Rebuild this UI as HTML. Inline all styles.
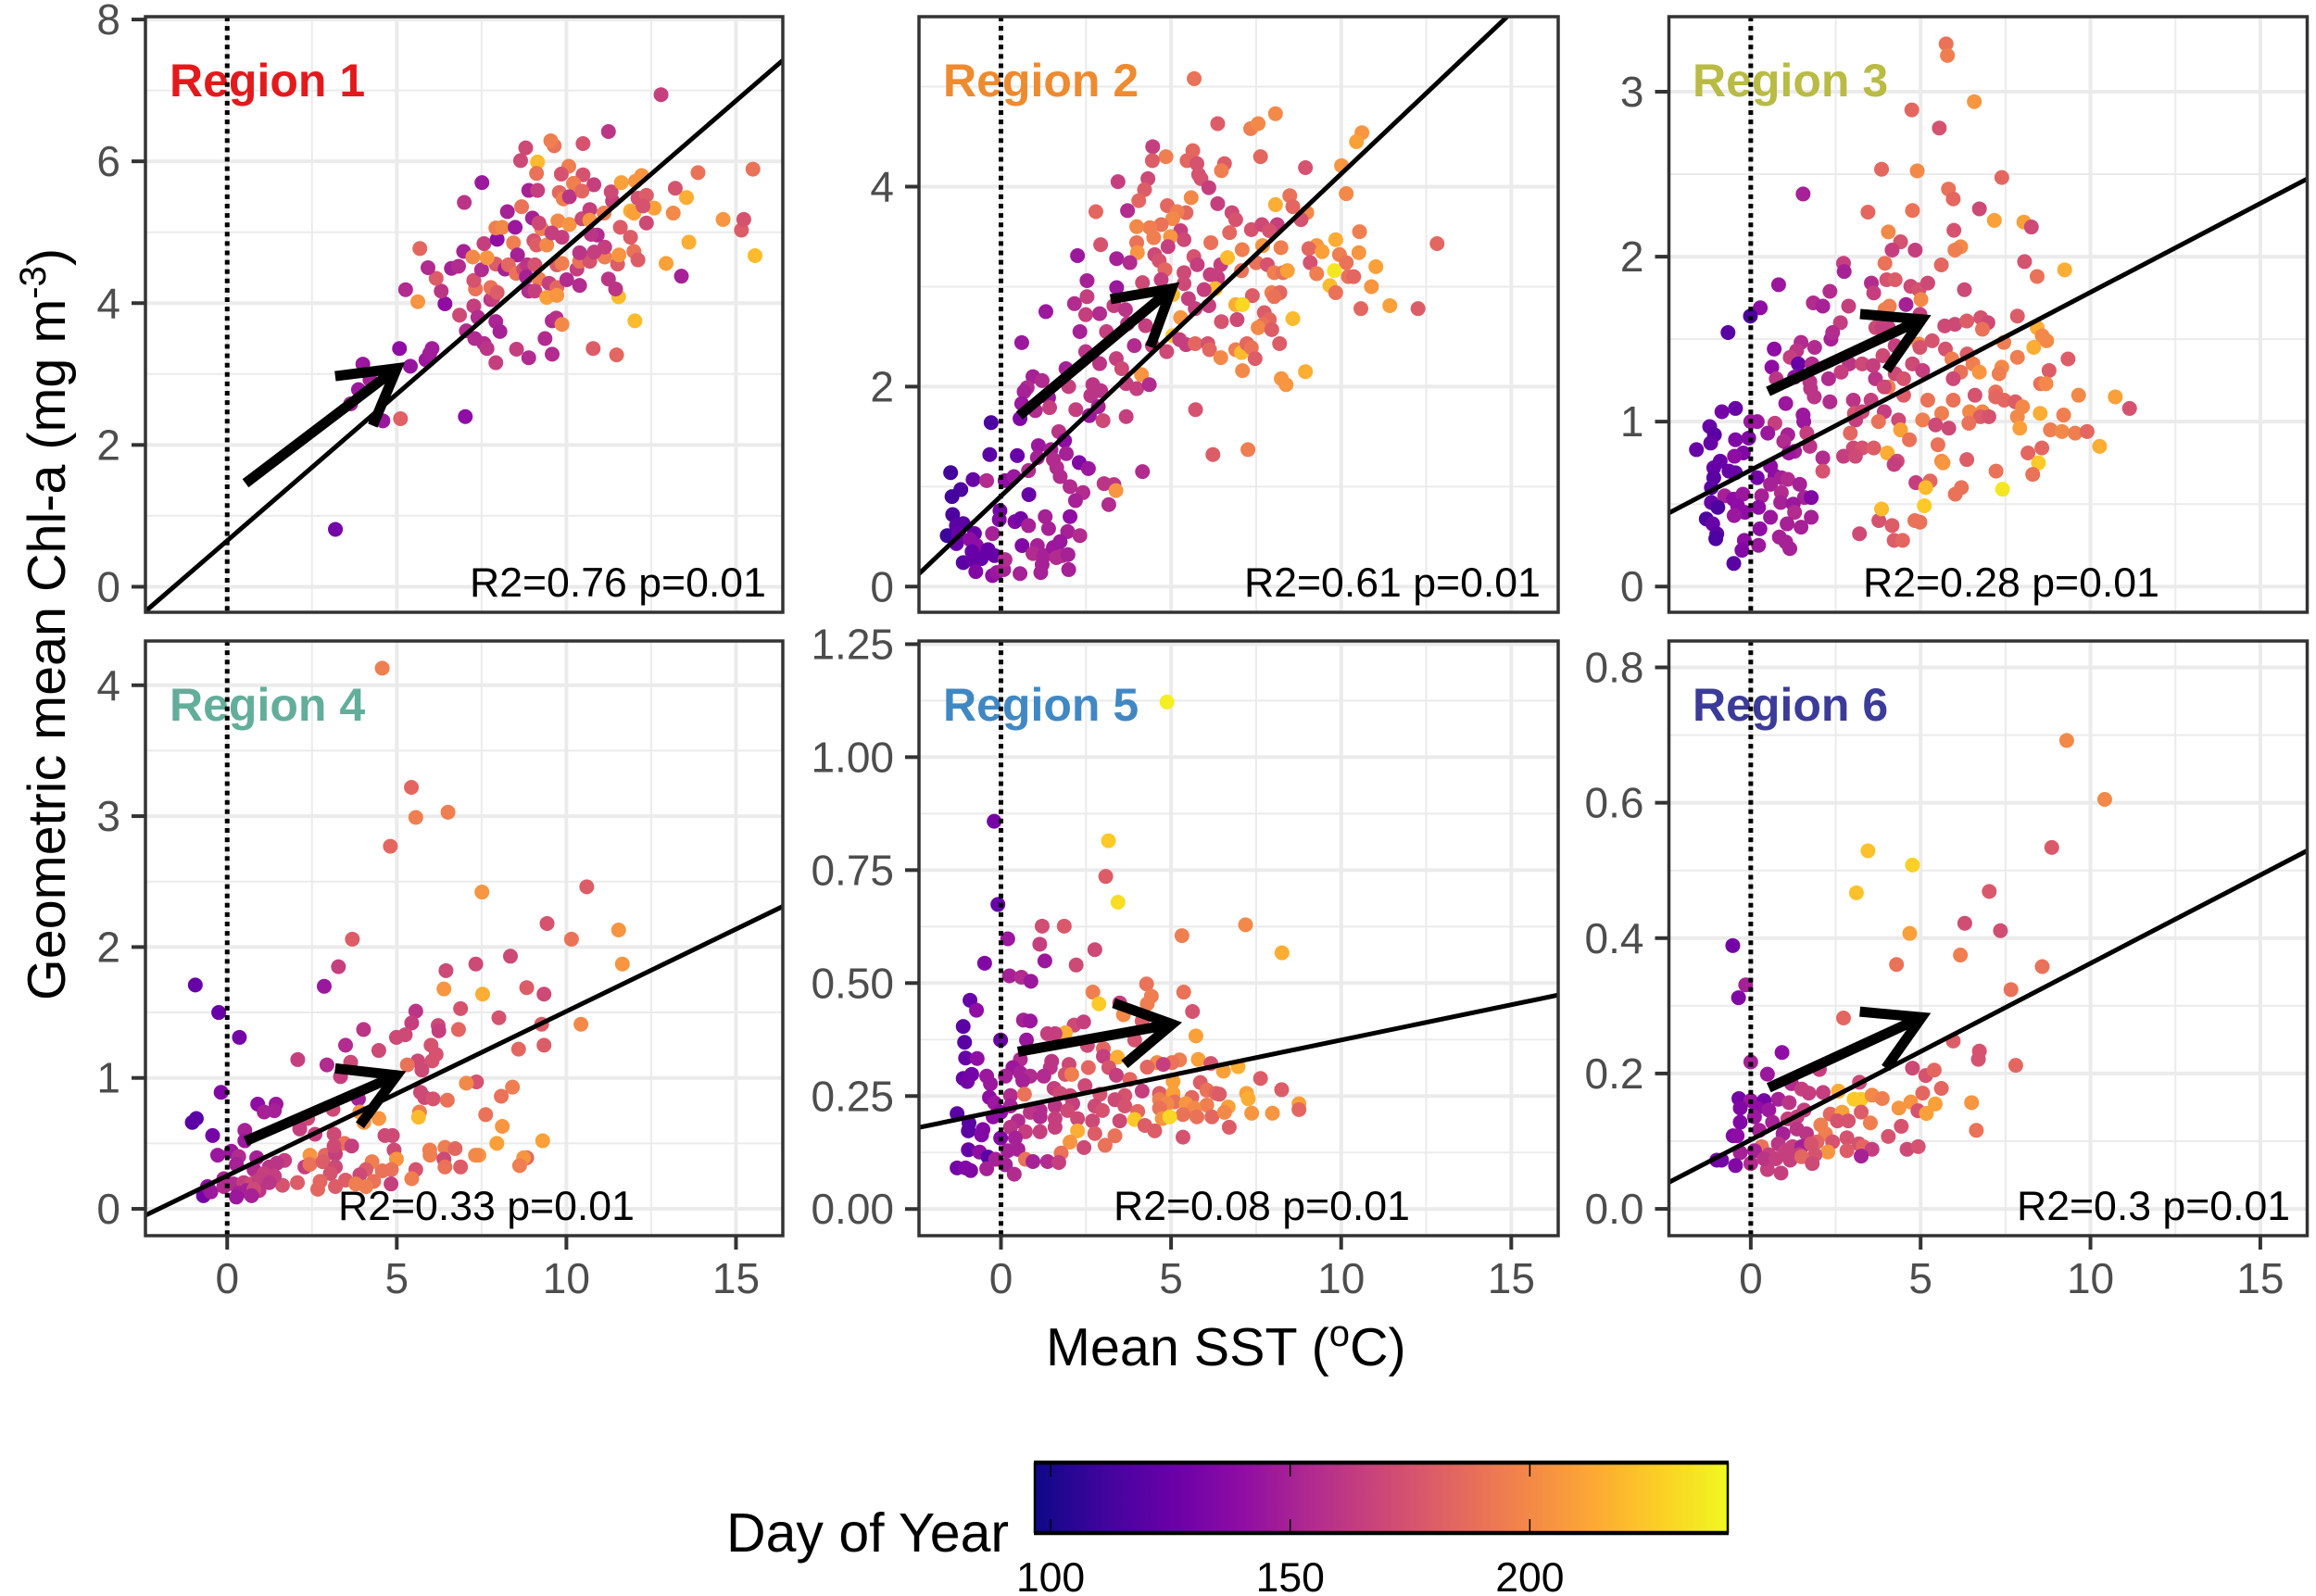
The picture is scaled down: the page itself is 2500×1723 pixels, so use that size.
<!DOCTYPE html>
<html lang="en">
<head>
<meta charset="utf-8">
<title>Chl-a vs SST by region</title>
<style>
html,body{margin:0;padding:0;background:#fff;}
svg{display:block;font-family:"Liberation Sans",Arial,sans-serif;}
</style>
</head>
<body>
<svg id="chart" xmlns="http://www.w3.org/2000/svg" width="2500" height="1723" viewBox="0 0 2500 1723">
<rect x="0" y="0" width="2500" height="1723" fill="#fff"/>
<defs><linearGradient id="plasmaGrad" x1="0" x2="1" y1="0" y2="0"></linearGradient></defs>
<g id="panels"></g>
<text transform="translate(70,1080) rotate(-90)" font-size="57.5" fill="#000">Geometric mean Chl-a (mg m<tspan dy="-21" font-size="40">-3</tspan><tspan dy="21">)</tspan></text>
<text x="1129" y="1474" font-size="57.5" fill="#000">Mean SST (<tspan dy="-21" font-size="40">o</tspan><tspan dy="21">C)</tspan></text>
<text x="784" y="1675" font-size="59" fill="#000">Day of Year</text>
<g id="legend"></g>
</svg>
<script>
// Each point: [mean SST, geometric mean Chl-a, day of year]
const region1Points = [[3.19,.81,130],[7.02,2.4,140],[4.59,2.34,145],[5.11,2.37,182],[3.64,2.58,150],[3.87,2.78,145],[4.21,2.92,150],[4,3.14,145],[5.08,3.36,140],[5.4,3.11,143],[5.86,3.2,145],[6.04,3.36,148],[5.97,3.29,148],[5.26,4.19,155],[5.62,4.02,205],[6.42,3.99,140],[6.31,4.17,160],[6.16,4.35,180],[5.92,4.5,155],[5.68,4.77,185],[6.61,4.49,150],[6.82,4.52,155],[6.97,4.73,150],[6.99,5.42,160],[7.51,5.7,145],[6.85,3.83,170],[7.27,3.96,165],[7.39,3.8,155],[7.05,3.61,155],[7.3,3.5,155],[7.57,3.43,155],[7.66,3.36,160],[7.92,3.16,165],[8.53,3.35,165],[8.89,3.23,155],[9.58,3.28,155],[9.37,3.5,155],[9.58,3.75,155],[9.7,3.79,158],[9.87,3.7,200],[10.79,3.36,180],[11.48,3.27,185],[12.02,3.75,220],[11.54,4.09,220],[7.92,3.74,152],[8.04,3.6,150],[7.77,4.05,160],[7.84,4.08,165],[7.32,4.2,190],[7.27,4.32,175],[7.77,4.22,190],[7.96,4.15,180],[7.5,4.47,155],[7.92,4.55,180],[8.19,4.48,150],[7.24,4.65,200],[7.66,4.64,205],[7.57,4.84,165],[7.96,4.9,140],[7.92,5.06,195],[8.11,5.07,200],[8.49,5.07,145],[8.26,5.29,150],[8.68,5.36,190],[9,5.2,150],[8.44,4.85,195],[8.56,4.68,150],[8.29,4.54,185],[8.52,4.42,190],[8.74,4.48,170],[8.85,4.54,160],[9.07,4.54,175],[8.82,4.37,150],[9.19,4.34,195],[8.89,4.17,155],[9.07,4.17,165],[9.49,4.28,165],[9.72,4.22,185],[9.42,4.08,210],[9.72,4.11,205],[10.01,4.33,155],[10.39,4.25,155],[11.24,4.34,160],[11.45,4.2,160],[13.39,4.38,150],[9.72,4.54,180],[9.87,4.56,195],[10.31,4.48,165],[10.39,4.59,190],[10.69,4.59,175],[11.13,4.65,195],[11.51,4.55,180],[11.55,4.68,205],[11.99,4.73,190],[12.11,4.61,180],[12.94,4.56,210],[13.61,4.86,215],[15.56,4.67,220],[15.16,5.03,180],[15.23,5.18,175],[14.62,5.18,205],[13.15,5.27,200],[12.59,5.34,210],[11.89,5.3,215],[11.99,5.27,210],[12.36,5.13,170],[11.59,5.07,180],[11.89,4.93,180],[11.13,4.79,165],[10.82,4.72,165],[10.39,4.71,160],[9.04,4.88,175],[9.12,4.82,180],[9.42,4.82,200],[9.87,4.93,165],[9.75,5.16,200],[10.09,5.11,205],[9.27,5.05,195],[9.19,5.13,170],[9.57,4.99,165],[10.46,5.19,170],[10.69,5.32,165],[10.69,5.17,205],[10.91,4.96,155],[10.73,4.97,160],[11.11,5.27,195],[11.36,5.44,165],[11.32,5.57,170],[10.81,5.67,165],[11.62,5.7,210],[12.04,5.72,205],[12.22,5.8,205],[12.11,5.48,175],[12.36,5.52,180],[12.26,5.37,175],[13.21,5.62,175],[13.54,5.49,215],[13.88,5.84,190],[15.5,5.89,190],[12.79,6.94,165],[11.24,6.42,160],[10.49,6.25,175],[9.64,6.22,190],[9.54,6.29,195],[8.8,6.19,170],[8.65,6.01,170],[9.15,5.99,220],[9.12,5.83,190],[10.07,5.93,195],[9.85,5.82,175],[10.49,5.81,175],[10.21,5.69,195],[8.89,5.59,150],[9.15,5.59,165],[9.79,5.56,185],[9.91,5.47,195],[10.09,5.5,160],[10.46,5.58,185]];
const region2Points = [[5.68,5.08,190],[6.37,4.63,180],[7.34,4.58,195],[7.56,4.63,200],[8.07,4.73,200],[10.61,4.54,205],[10.45,4.45,210],[10.01,4.21,205],[8.95,4.19,175],[7.63,4.3,185],[6.57,4.23,180],[6.48,4.16,195],[4.46,4.4,165],[5.64,4.36,185],[4.85,4.3,195],[4.45,4.26,180],[5.47,4.26,185],[5.76,4.23,175],[5.81,4.12,175],[5.88,4.08,175],[6.11,3.99,165],[4.32,4.08,170],[4.22,3.97,180],[4.05,3.86,185],[3.44,4.05,165],[2.79,3.75,185],[3.72,3.76,155],[5.59,3.89,200],[4.89,3.81,185],[6.37,3.83,165],[6.79,3.74,170],[6.9,3.67,175],[5.44,3.74,185],[5.18,3.75,195],[5.05,3.68,200],[4.71,3.62,190],[4.38,3.59,195],[3.99,3.6,200],[5.28,3.56,165],[5.38,3.47,170],[4.98,3.5,205],[4.49,3.49,195],[3.99,3.44,190],[2.93,3.42,175],[4.91,3.4,165],[4.01,3.34,205],[2.25,3.31,145],[3.4,3.28,150],[3.79,3.24,155],[4.52,3.32,170],[4.65,3.26,175],[5.67,3.3,175],[5.77,3.22,165],[4.82,3.17,185],[5.38,3.14,170],[2.53,3.06,150],[4.71,3.07,165],[4.16,3.04,170],[5.38,3.03,170],[3.4,2.99,145],[6.15,3.12,165],[6.37,3.09,165],[6.46,3.22,165],[6.72,3.54,185],[6.17,3.44,190],[7.36,3.57,175],[7.67,3.62,170],[8.12,3.62,165],[7.89,3.56,175],[8.07,3.82,215],[8.49,3.91,190],[8.58,3.8,185],[8.99,3.74,200],[8.82,3.67,175],[10.15,3.93,200],[10.54,3.55,195],[9.84,3.47,215],[9.28,3.41,205],[9.05,3.38,185],[9.44,3.35,210],[9.95,3.32,195],[10.52,3.34,205],[9.09,3.24,175],[10.15,3.24,190],[11.02,3.2,210],[9.8,3.16,235],[9.28,3.13,195],[10.21,3.1,190],[10.37,3.1,185],[9.67,3.01,220],[9.84,2.94,190],[10.89,3,205],[12.82,3.43,185],[12.26,2.78,180],[11.43,2.81,210],[10.58,2.78,185],[7.09,3.37,195],[7.69,3.41,205],[8.23,3.39,195],[6.66,3.29,220],[7.5,3.24,190],[7.83,3.22,175],[8.03,3.14,195],[8.29,3.14,190],[8.42,3.16,210],[7.07,3.16,190],[6.3,2.98,220],[5.97,2.97,165],[5.05,2.92,220],[5.51,2.88,165],[6.11,2.81,165],[5.71,2.78,165],[7.39,2.91,180],[7.96,2.94,195],[8.2,2.94,185],[8.03,2.9,190],[6.9,2.82,215],[7.1,2.82,230],[7.74,2.74,180],[8.58,2.68,220],[6.94,2.67,170],[6.48,2.65,175],[7.89,2.67,185],[7.7,2.62,190],[7.56,2.59,200],[7.96,2.57,180],[5.28,2.69,205],[5.05,2.51,225],[5.25,2.47,165],[5.44,2.42,165],[5.71,2.43,185],[6.08,2.43,175],[6.13,2.37,185],[6.46,2.29,200],[6.9,2.37,195],[7.07,2.34,220],[7.23,2.43,185],[7.36,2.39,190],[7.47,2.28,180],[8.19,2.43,180],[7.1,2.16,200],[8.24,2.08,205],[8.38,2.02,205],[8.95,2.15,215],[4.87,2.35,170],[4.45,2.41,165],[4.13,2.12,205],[5.72,1.77,175],[6.23,1.32,180],[7.26,1.37,195],[3.32,2.81,165],[3.66,2.77,160],[2.49,2.72,165],[2.9,2.73,155],[2.16,2.83,155],[2.53,2.9,165],[1.32,2.75,145],[.61,2.44,145],[2.32,2.55,150],[3.1,2.55,165],[3.72,2.63,160],[4.25,2.61,165],[3.92,2.41,155],[2.49,2.35,160],[3.39,2.28,165],[3.55,2.18,170],[2.9,2.23,160],[1.91,2.18,150],[.94,2.1,150],[1.21,2.06,155],[.77,1.99,155],[.68,1.95,150],[1.99,2,165],[2.7,2.02,160],[2.93,1.96,160],[2.64,1.91,160],[3.68,2.03,165],[3.99,1.98,165],[4.36,2.02,155],[.61,1.83,145],[1.4,1.89,145],[1.01,1.76,155],[1.43,1.79,165],[.56,1.68,135],[2.2,1.77,165],[2.6,1.71,145],[2.86,1.8,150],[3,1.66,170],[3.68,1.7,165],[-.29,1.64,115],[1.7,1.55,160],[1.87,1.46,140],[1.1,1.41,145],[1.47,1.37,150],[-.33,1.32,120],[.48,1.31,125],[1.92,1.33,150],[1.07,1.29,150],[1.54,1.27,155],[2.3,1.24,135],[2.57,1.18,145],[1.64,1.19,155],[1.74,1.1,155],[4.16,1.15,155],[-1.48,1.14,112],[-.82,1.07,125],[-.42,1.06,155],[.12,1.06,140],[.38,1.1,145],[.81,1.16,155],[3.03,1.03,160],[3.32,1.02,160],[3.38,.96,205],[2.03,1,155],[2.41,.94,155],[-1.18,.97,115],[-1.44,.9,112],[.82,.92,125],[2.19,.86,150],[3.17,.82,155],[-.03,.76,130],[-1.42,.72,115],[-.05,.67,135],[.41,.65,135],[.58,.68,130],[1.3,.7,150],[2.03,.7,140],[.81,.61,150],[1.4,.58,150],[1.96,.55,150],[2.32,.51,155],[-1.31,.61,120],[-1.11,.63,120],[-1.58,.51,110],[-1.25,.53,125],[-.78,.53,125],[-.25,.53,150],[-1.31,.43,125],[-.91,.47,140],[-.72,.41,140],[-.38,.37,125],[-.85,.35,125],[-.19,.31,125],[-1.11,.24,120],[-.85,.27,125],[-.58,.28,125],[-.74,.15,135],[-.25,.11,140],[-.12,.14,145],[.08,.17,150],[.12,.27,155],[.56,.13,150],[1.17,.14,150],[1.99,.17,150],[.62,.41,135],[1.07,.41,150],[.94,.33,155],[1.27,.31,150],[1.21,.22,150],[1.54,.39,145],[1.63,.29,155],[1.8,.31,155],[1.97,.32,150],[1.74,.45,145]];
const region3Points = [[5.75,3.29,190],[5.79,3.22,195],[6.58,2.94,205],[4.74,2.89,185],[5.55,2.78,175],[3.85,2.53,185],[4.9,2.52,200],[7.39,2.48,185],[1.54,2.38,150],[5.82,2.41,190],[5.96,2.35,185],[6.73,2.29,170],[3.45,2.27,185],[4.76,2.28,190],[7.17,2.22,210],[8.04,2.21,210],[8.26,2.18,170],[4.05,2.15,200],[5.98,2.16,175],[4.41,2.09,175],[4.16,2.04,165],[4.84,2.04,165],[6.18,2.06,200],[6.01,2.04,195],[2.73,1.96,165],[2.75,1.91,150],[3.95,1.96,190],[5.61,1.95,185],[8.06,1.97,175],[9.24,1.92,215],[8.43,1.88,190],[.82,1.83,145],[2.33,1.79,155],[3.55,1.84,155],[3.62,1.78,165],[4,1.86,175],[4.25,1.86,180],[4.71,1.82,170],[4.95,1.8,175],[5.21,1.84,170],[6.29,1.8,170],[1.84,1.72,155],[2.12,1.7,150],[2.88,1.7,165],[.28,1.69,140],[-.01,1.64,115],[-.67,1.54,120],[4.57,1.71,150],[5.01,1.74,200],[4.08,1.7,195],[3.95,1.68,195],[4.98,1.65,165],[2.64,1.6,165],[3.68,1.57,170],[3.86,1.57,165],[4.05,1.57,165],[5.71,1.58,170],[6.01,1.59,170],[6.36,1.61,180],[6.77,1.63,175],[6.98,1.6,170],[6.82,1.56,190],[7.85,1.64,180],[8.43,1.57,215],[8.58,1.52,200],[8.71,1.49,200],[2.36,1.5,150],[2.41,1.54,155],[1.48,1.48,155],[1.88,1.45,155],[1.35,1.43,160],[.69,1.44,140],[1.16,1.39,165],[4.25,1.46,165],[4.95,1.47,200],[4.98,1.45,175],[5.34,1.49,175],[5.73,1.44,175],[7.45,1.48,195],[8.33,1.45,215],[6.37,1.41,180],[7.85,1.39,195],[9.34,1.38,180],[5.92,1.38,195],[3.89,1.4,170],[1.4,1.35,125],[.62,1.33,140],[1.8,1.35,155],[2.9,1.35,160],[3.28,1.35,170],[2.66,1.3,165],[3.6,1.34,165],[4.76,1.35,170],[5.06,1.31,165],[6.54,1.35,195],[4.25,1.29,170],[6.18,1.3,190],[6.73,1.3,205],[7.39,1.33,200],[7.31,1.29,195],[8.78,1.31,180],[5.96,1.26,170],[.75,1.26,160],[1.29,1.27,140],[2.29,1.26,155],[3.67,1.26,160],[4.5,1.26,175],[4.05,1.21,195],[8.53,1.23,190],[8.69,1.23,200],[1.74,1.24,160],[1.76,1.2,160],[1.87,1.15,160],[4.5,1.16,180],[3.93,1.21,170],[1.03,1.11,145],[2.33,1.12,155],[3.02,1.13,160],[3.54,1.13,165],[5.21,1.13,190],[5.96,1.13,190],[6.6,1.16,175],[7.21,1.18,190],[7.21,1.15,185],[7.46,1.13,185],[7.79,1.12,180],[9.65,1.16,200],[10.73,1.15,210],[11.15,1.08,175],[8,1.09,200],[-.45,1.08,125],[-.85,1.06,130],[1.54,1.04,145],[1.56,1,145],[3.05,1.05,175],[3.28,1.06,170],[3.09,1.01,165],[3.93,1.06,165],[3.76,1,190],[0,1,145],[.19,1,145],[.71,.99,165],[4.35,1.01,170],[5.06,1.01,195],[5.62,1.05,195],[6.44,1.06,200],[6.82,1.06,200],[6.76,1.03,180],[7.01,1.03,175],[7.85,1.03,200],[8.52,1.05,215],[9.21,1.04,195],[5.44,.98,170],[5.83,.96,170],[6.42,.99,190],[7.92,.96,210],[-1.21,.97,125],[-1.07,.92,120],[-1.18,.87,125],[-1.6,.83,125],[.5,.93,145],[-.45,.89,135],[-.06,.9,135],[1.09,.92,150],[.97,.88,155],[1.65,.93,165],[1.74,.85,160],[1.29,.82,150],[1.12,.81,145],[2.93,.93,185],[4.41,.95,210],[4.67,.89,190],[5.51,.86,190],[8.82,.95,195],[9.16,.94,200],[9.55,.93,195],[9.9,.94,185],[10.27,.85,215],[8.57,.84,185],[8.16,.81,185],[3.02,.84,170],[3.28,.84,175],[3.62,.84,180],[2.73,.79,165],[3.08,.79,170],[4.02,.81,215],[2.12,.78,155],[6.36,.77,180],[5.62,.76,200],[5.66,.75,205],[8.47,.75,225],[4.31,.76,170],[4.22,.74,165],[2.12,.7,175],[-.22,.81,135],[-.48,.79,140],[-.9,.76,125],[-1.09,.72,125],[-.64,.7,125],[-.45,.69,125],[.58,.73,140],[.71,.67,140],[.19,.66,130],[-1.09,.66,120],[-1.16,.6,120],[7.22,.7,190],[8.3,.68,190],[5.28,.64,185],[4.86,.63,165],[5.15,.6,220],[6.2,.6,190],[6.02,.56,190],[7.41,.59,235],[.58,.62,150],[.9,.66,150],[1.09,.65,155],[1.44,.62,150],[.9,.57,155],[.32,.55,150],[1.58,.54,150],[1.78,.54,135],[-.77,.55,150],[-.51,.53,140],[-.23,.56,145],[-1.16,.51,125],[-.97,.48,115],[-.39,.49,140],[-.17,.45,140],[-.49,.43,145],[.88,.51,150],[.23,.48,140],[1.25,.5,145],[1.29,.45,155],[.58,.42,145],[1.78,.42,150],[-1.31,.41,115],[-1.12,.38,125],[1.07,.38,150],[1.48,.36,150],[.27,.35,140],[-1,.32,120],[-1.03,.29,115],[-.19,.28,140],[.23,.25,145],[.84,.3,150],[1.03,.27,150],[1.15,.23,150],[-.26,.22,135],[-.5,.14,120],[3.2,.32,170],[3.77,.4,175],[4.16,.37,180],[3.85,.47,220],[5.11,.49,225],[4.83,.4,190],[4.98,.39,190],[4.22,.28,180],[4.47,.28,185]];
const region4Points = [[4.57,4.13,195],[5.43,3.22,185],[5.56,2.99,195],[6.51,3.03,195],[4.81,2.77,185],[7.51,2.42,205],[10.6,2.46,180],[9.43,2.18,175],[11.54,2.13,205],[10.15,2.06,190],[3.69,2.06,180],[3.28,1.85,165],[2.86,1.7,145],[-.94,1.71,125],[-.25,1.5,125],[.36,1.31,130],[11.65,1.87,205],[8.35,1.93,170],[7.33,1.87,170],[6.45,1.82,170],[6.39,1.68,205],[8.83,1.69,180],[7.53,1.64,215],[9.34,1.64,170],[6.88,1.53,175],[5.56,1.51,160],[8.01,1.46,175],[5.44,1.42,165],[9.27,1.41,180],[10.43,1.41,200],[6.22,1.4,170],[6.24,1.36,165],[6.82,1.37,185],[4.02,1.37,160],[4.99,1.31,170],[5.25,1.33,170],[3.49,1.25,155],[9.34,1.25,180],[6.01,1.25,175],[4.47,1.21,170],[8.59,1.22,185],[6.16,1.18,175],[2.08,1.14,165],[3.64,1.12,170],[5.62,1.13,170],[6.04,1.13,175],[5.31,1.1,190],[5.74,1.06,170],[2.94,1.1,155],[3.34,1.01,165],[7.35,.97,175],[7.05,.96,200],[8.41,.93,195],[8.08,.86,190],[5.7,.89,170],[5.82,.85,170],[6.07,.84,175],[6.49,.83,190],[-.18,.89,135],[.9,.8,140],[1.44,.8,145],[1.09,.74,150],[1.39,.75,150],[3.87,.84,150],[3.12,.76,170],[5.67,.74,195],[7.62,.72,190],[3.91,.74,205],[4.47,.69,205],[4.03,.66,205],[5.64,.7,220],[8.11,.63,205],[-1.03,.66,120],[-.91,.69,120],[-.43,.56,130],[.52,.6,150],[.52,.52,145],[2.37,.69,170],[2.14,.61,165],[2.59,.57,165],[3.15,.57,170],[4.65,.56,170],[4.87,.56,170],[3.46,.5,190],[3.67,.48,165],[9.3,.52,210],[7.95,.5,210],[6.42,.47,195],[6.72,.46,185],[5.97,.45,195],[5.98,.41,195],[4.92,.45,170],[7.42,.41,205],[7.32,.41,200],[8.83,.39,185],[8.74,.39,205],[8.62,.33,195],[6.88,.32,180],[6.39,.38,170],[6.42,.32,190],[5.56,.3,175],[5.44,.23,195],[4.99,.38,205],[4.84,.3,190],[4.57,.29,190],[4.27,.36,195],[4.09,.3,180],[3.91,.26,170],[4.32,.21,190],[4.83,.19,165],[2.44,.41,205],[2.89,.41,185],[3.19,.42,165],[3.15,.48,170],[2.29,.32,165],[2.44,.34,190],[1.69,.37,165],[2.82,.36,180],[3.19,.32,170],[3.04,.27,175],[2.74,.21,185],[2.67,.15,185],[3.19,.17,180],[3.49,.22,180],[3.79,.19,195],[4.09,.17,195],[2.07,.2,180],[1.63,.18,175],[-.28,.41,145],[.12,.44,145],[.34,.4,155],[.87,.39,150],[.27,.34,150],[.79,.3,155],[1.24,.32,160],[1.47,.35,160],[1.09,.27,165],[1.39,.25,165],[-.1,.23,150],[.19,.19,155],[.49,.2,165],[.72,.19,170],[.94,.22,165],[1.24,.2,160],[.34,.12,150],[.57,.14,150],[.27,.09,145],[.94,.14,160],[-.7,.1,130],[-.58,.17,140],[-.48,.13,145],[.79,.15,170],[.72,.1,150],[-.1,.17,155]];
const region5Points = [[4.88,1.122,238],[-.2,.858,130],[3.16,.815,225],[3.08,.736,180],[-.09,.674,125],[3.44,.679,232],[1.21,.626,172],[1.86,.626,178],[7.19,.629,200],[5.32,.605,195],[.2,.598,145],[1.14,.586,165],[2.76,.574,170],[1.29,.549,145],[-.48,.544,135],[2.21,.54,170],[8.26,.567,215],[.25,.516,150],[.6,.513,155],[.88,.504,145],[4.28,.498,190],[2.7,.48,195],[5.37,.48,190],[2.88,.454,225],[4.42,.471,195],[4.3,.454,195],[-.91,.462,125],[-.72,.44,140],[3.49,.456,165],[5.63,.437,175],[3.6,.43,200],[4.15,.416,180],[.66,.418,150],[.86,.416,145],[-1.11,.404,120],[2.15,.407,170],[2.43,.414,165],[5.73,.383,210],[1.89,.39,215],[1.37,.388,165],[1.59,.388,165],[.75,.374,145],[-.01,.374,125],[-1.07,.369,120],[3.93,.374,175],[2.54,.362,170],[-1.04,.334,125],[-.7,.333,140],[3.01,.355,185],[3.01,.338,165],[3.42,.336,215],[.57,.331,155],[5.8,.331,210],[5.25,.33,195],[5.03,.324,190],[4.59,.324,200],[4.3,.314,185],[4.77,.32,165],[1.49,.327,160],[1.45,.313,160],[2,.32,170],[2.57,.313,185],[3.17,.313,175],[6.17,.322,175],[6.97,.315,215],[6.54,.305,210],[.35,.313,145],[.13,.294,150],[.57,.301,150],[.86,.294,155],[1.26,.294,155],[1.89,.298,175],[2.08,.298,195],[3.39,.296,165],[-1.11,.289,125],[-.86,.298,130],[-.99,.282,130],[-.42,.294,145],[-.31,.277,145],[.64,.284,150],[3.79,.287,185],[5.06,.282,210],[5.86,.28,180],[7.63,.289,180],[2.47,.273,170],[1.56,.267,165],[.28,.251,155],[.69,.254,190],[2.91,.254,175],[4.15,.261,165],[4.66,.256,180],[5.06,.256,210],[8.25,.264,180],[6.05,.263,190],[6.32,.256,185],[7.22,.256,210],[1.74,.256,170],[2.03,.251,170],[-.34,.247,140],[-.19,.235,145],[3.64,.251,175],[3.35,.242,170],[6.42,.254,180],[5.61,.247,185],[7.27,.244,215],[4.66,.242,195],[5.1,.237,190],[5.44,.233,205],[6.05,.23,195],[8.76,.233,210],[8.76,.22,185],[.28,.228,150],[1.15,.218,155],[1.59,.228,160],[2.11,.233,165],[2.76,.228,170],[3.64,.228,175],[4.88,.233,200],[5.69,.223,200],[6.68,.226,210],[7.37,.212,205],[7.98,.212,205],[-1.29,.211,120],[-.01,.214,140],[.86,.214,160],[1.96,.218,170],[2.98,.218,175],[4.02,.216,185],[4.66,.223,190],[6.2,.204,185],[6.57,.214,200],[5.76,.204,190],[5.35,.209,190],[-.94,.19,120],[-.23,.204,140],[.5,.195,155],[1.15,.204,155],[1.59,.2,165],[2.25,.2,170],[2.69,.195,170],[3.49,.195,170],[3.93,.198,225],[4.74,.2,205],[4.96,.204,230],[-.96,.173,120],[-.53,.176,135],[.28,.181,160],[.72,.171,165],[1.15,.171,165],[1.59,.181,165],[2.76,.167,180],[2.25,.173,215],[4.23,.185,180],[4.52,.173,180],[6.71,.181,180],[3.35,.162,190],[5.35,.159,175],[-.57,.164,135],[-.01,.157,135],[.42,.157,150],[2.03,.148,205],[3.06,.141,190],[2.44,.136,170],[-.96,.131,125],[-.63,.126,140],[.2,.129,150],[.5,.132,150],[1.77,.124,190],[-.38,.115,120],[-.16,.11,150],[.72,.11,190],[.94,.105,150],[1.37,.105,155],[1.7,.103,165],[-1.29,.091,130],[-1.04,.091,135],[-.89,.085,135],[-.42,.089,150],[.13,.098,150],[.39,.077,155]];
const region6Points = [[9.3,.692,200],[10.42,.605,200],[8.86,.534,178],[3.45,.529,222],[4.76,.508,228],[3.11,.467,222],[7.02,.469,178],[6.3,.422,172],[7.35,.411,172],[4.68,.407,210],[6.17,.375,195],[4.29,.361,190],[8.58,.358,190],[-.53,.389,130],[-.15,.331,150],[-.36,.312,135],[7.66,.324,190],[2.73,.282,185],[5.96,.248,180],[6.73,.233,175],[6.7,.221,175],[7.8,.212,185],[.92,.231,140],[0,.217,150],[.49,.199,145],[2.02,.206,165],[4.76,.208,170],[5.15,.197,175],[5.4,.205,185],[3.2,.187,170],[1.2,.185,155],[1.5,.177,165],[1.71,.171,165],[2.13,.172,165],[2.58,.174,215],[5.61,.178,185],[5.06,.171,185],[-.35,.163,130],[0,.16,145],[.39,.16,130],[.81,.162,150],[1.13,.157,160],[3.04,.162,225],[3.25,.162,225],[3.57,.168,200],[3.87,.163,195],[4.71,.158,205],[5.43,.155,210],[6.5,.157,205],[-.31,.149,135],[.18,.149,140],[.53,.146,145],[1.57,.146,165],[4.36,.149,205],[4.92,.145,175],[5.17,.141,210],[2.34,.14,185],[2.69,.143,210],[3.25,.143,180],[2.55,.13,175],[2.87,.13,175],[3.52,.127,195],[.11,.136,145],[-.31,.128,135],[.64,.128,150],[1.09,.133,165],[1.36,.136,165],[2.06,.124,195],[4.43,.122,175],[6.64,.116,190],[4.05,.107,175],[-.52,.108,135],[-.4,.108,140],[.25,.116,150],[.95,.111,150],[1.36,.118,160],[1.64,.111,160],[2.2,.111,195],[2.83,.105,175],[3.18,.096,175],[3.31,.092,185],[1.95,.099,185],[2.41,.099,175],[.32,.092,190],[.81,.096,160],[1.23,.092,165],[1.5,.092,150],[1.78,.096,175],[2.83,.086,180],[3.57,.088,165],[4.6,.088,170],[4.93,.092,175],[2.27,.084,205],[-.31,.083,150],[.11,.086,150],[.53,.08,165],[1.02,.086,165],[1.43,.08,165],[1.89,.08,175],[3.25,.078,150],[-1,.072,130],[-.86,.072,130],[-.45,.064,135],[0,.067,155],[.49,.058,165],[.89,.053,165],[1.16,.072,165],[1.5,.077,185],[1.81,.067,170],[.39,.074,160],[.74,.074,165]];

const regionNames = ['Region 1','Region 2','Region 3','Region 4','Region 5','Region 6'];
const statLabels = ['R2=0.76 p=0.01','R2=0.61 p=0.01','R2=0.28 p=0.01','R2=0.33 p=0.01','R2=0.08 p=0.01','R2=0.3 p=0.01'];
const fitSlopes = [0.4136,0.3223,0.1078,0.1256,0.0156,0.02608];
const fitIntercepts = [0.65,0.905,0.706,0.253,0.218,0.102];
const arrowStartSst = [.54,.54,.51,.54,.5,.53];
const arrowStartChl = [1.46,1.71,1.183,.517,.348,.179];
const arrowEndSst = [5.0,5.02,5.04,5.0,5.03,5.03];
const arrowEndChl = [3.08,2.98,1.62,1.02,.409,.283];
const xTicks = [0,5,10,15];
const xMinorTicks = [2.5,7.5,12.5];
const yTickLabels1 = ['0','2','4','6','8'];
const yTickLabels2 = ['0','2','4'];
const yTickLabels3 = ['0','1','2','3'];
const yTickLabels4 = ['0','1','2','3','4'];
const yTickLabels5 = ['0.00','0.25','0.50','0.75','1.00','1.25'];
const yTickLabels6 = ['0.0','0.2','0.4','0.6','0.8'];
const legendTicks = [100,150,200];
const dayDomain = [96.7,241.3];
const plasmaStops = ['#0d0887','#41049d','#6a00a8','#8f0da4','#b12a90','#cc4778','#e16462','#f2844b','#fca636','#fcce25','#f0f921'];

const NS = 'http://www.w3.org/2000/svg';
const panelHost = document.getElementById('panels');
const legendHost = document.getElementById('legend');
const allPoints = [region1Points,region2Points,region3Points,region4Points,region5Points,region6Points];
const allYTicks = [yTickLabels1,yTickLabels2,yTickLabels3,yTickLabels4,yTickLabels5,yTickLabels6];
const xDomain = [-2.41,16.38];
const yDomains = [[-.36,8.04],[-.257,5.7],[-.156,3.455],[-.205,4.338],[-.059,1.257],[-.0396,.839]];
const panelLeft = [157,992,1801.5,157,992,1801.5];
const panelRight = [845,1682,2490.5,845,1682,2490.5];
const panelTop = [18,18,18,692,692,692];
const panelBottom = [661,661,661,1334,1334,1334];
const labelX = [183,1018,1827,183,1018,1827];
const labelY = [104,104,104,778,778,778];
const statX = [507,1343,2011,365,1202,2177];
const statY = [644,644,644,1317,1317,1317];
const labelColors = ['#e31a1c','#ee8a2f','#b9bb44','#62ae9b','#4088c4','#3b3b99'];

function mk(tag, attrs, parent){
  const e = document.createElementNS(NS, tag);
  for (const k in attrs) e.setAttribute(k, attrs[k]);
  parent.appendChild(e);
  return e;
}
function plasma(day){
  let t = (day - dayDomain[0]) / (dayDomain[1] - dayDomain[0]);
  t = Math.max(0, Math.min(1, t)) * (plasmaStops.length - 1);
  const i = Math.min(Math.floor(t), plasmaStops.length - 2);
  const f = t - i;
  const a = plasmaStops[i], b = plasmaStops[i + 1];
  const ch = s => parseInt(a.substr(s, 2), 16) + (parseInt(b.substr(s, 2), 16) - parseInt(a.substr(s, 2), 16)) * f;
  return 'rgb(' + Math.round(ch(1)) + ',' + Math.round(ch(3)) + ',' + Math.round(ch(5)) + ')';
}

allPoints.forEach(function (points, p) {
  const L = panelLeft[p], R = panelRight[p], T = panelTop[p], B = panelBottom[p];
  const xs = v => L + (v - xDomain[0]) / (xDomain[1] - xDomain[0]) * (R - L);
  const ys = v => B - (v - yDomains[p][0]) / (yDomains[p][1] - yDomains[p][0]) * (B - T);
  const g = mk('g', {}, panelHost);
  
  
  const clip = mk('clipPath', {id: 'clip' + p}, g);
  mk('rect', {x: L, y: T, width: R - L, height: B - T}, clip);
  const bg = mk('rect', {x: L, y: T, width: R - L, height: B - T, fill: '#fff'}, g);
  
  

  const tickVals = allYTicks[p].map(Number);
  const step = tickVals[1] - tickVals[0];
  tickVals.forEach(function (v) {
    const minorV = v + step / 2;
    if (minorV < yDomains[p][1]) {
      const mn = mk('line', {x1: L, x2: R, y1: ys(minorV), y2: ys(minorV), stroke: '#ebebeb', 'stroke-width': 2}, g);
      
      
    }
    const mj = mk('line', {x1: L, x2: R, y1: ys(v), y2: ys(v), stroke: '#ebebeb', 'stroke-width': 4}, g);
    
    
  });
  xMinorTicks.forEach(function (v) {
    const mn = mk('line', {x1: xs(v), x2: xs(v), y1: T, y2: B, stroke: '#ebebeb', 'stroke-width': 2}, g);
    
    
  });
  xTicks.forEach(function (v) {
    const mj = mk('line', {x1: xs(v), x2: xs(v), y1: T, y2: B, stroke: '#ebebeb', 'stroke-width': 4}, g);
    
    
  });

  const lab = mk('text', {x: labelX[p], y: labelY[p], 'font-size': 50, 'font-weight': 'bold', fill: labelColors[p]}, g);
  
  
  lab.textContent = regionNames[p];

  const pts = mk('g', {}, g);
  
  
  points.forEach(function (d) {
    const c = mk('circle', {cx: xs(d[0]), cy: ys(d[1]), r: 8, fill: plasma(d[2])}, pts);
    
    
  });

  const zero = mk('line', {x1: xs(0), x2: xs(0), y1: T, y2: B, stroke: '#000', 'stroke-width': 5, 'stroke-dasharray': '5 5.1'}, g);
  
  

  const fit = mk('line', {
    x1: xs(xDomain[0]), y1: ys(fitIntercepts[p] + fitSlopes[p] * xDomain[0]),
    x2: xs(xDomain[1]), y2: ys(fitIntercepts[p] + fitSlopes[p] * xDomain[1]),
    stroke: '#000', 'stroke-width': 5, 'clip-path': 'url(#clip' + p + ')'
  }, g);
  
  

  const ax = xs(arrowStartSst[p]), ay = ys(arrowStartChl[p]), bx = xs(arrowEndSst[p]), by = ys(arrowEndChl[p]);
  const ang = Math.atan2(ay - by, ax - bx);
  const headLen = 67, headAng = Math.PI / 6;
  const d = 'M' + ax + ' ' + ay + 'L' + bx + ' ' + by +
    'M' + (bx + headLen * Math.cos(ang + headAng)) + ' ' + (by + headLen * Math.sin(ang + headAng)) +
    'L' + bx + ' ' + by +
    'L' + (bx + headLen * Math.cos(ang - headAng)) + ' ' + (by + headLen * Math.sin(ang - headAng));
  const arrow = mk('path', {d: d, fill: 'none', stroke: '#000', 'stroke-width': 11, 'stroke-linejoin': 'miter'}, g);
  
  

  const stat = mk('text', {x: statX[p], y: statY[p], 'font-size': 44.6, fill: '#000'}, g);
  
  
  stat.textContent = statLabels[p];

  const frame = mk('rect', {x: L, y: T, width: R - L, height: B - T, fill: 'none', stroke: '#333', 'stroke-width': 3.5}, g);
  
  

  allYTicks[p].forEach(function (t) {
    const v = Number(t);
    const tk = mk('line', {x1: L - 15, x2: L, y1: ys(v), y2: ys(v), stroke: '#333', 'stroke-width': 4}, g);
    
    
    const tl = mk('text', {x: L - 27, y: ys(v) + 16, 'text-anchor': 'end', 'font-size': 46, fill: '#4d4d4d'}, g);
    
    
    tl.textContent = t;
  });
  if (p >= 3) {
    xTicks.forEach(function (v) {
      const tk = mk('line', {x1: xs(v), x2: xs(v), y1: B, y2: B + 15, stroke: '#333', 'stroke-width': 4}, g);
      
      
      const tl = mk('text', {x: xs(v), y: 1396, 'text-anchor': 'middle', 'font-size': 46, fill: '#4d4d4d'}, g);
      
      
      tl.textContent = String(v);
    });
  }
});

const grad = document.getElementById('plasmaGrad');
plasmaStops.forEach(function (col, i) {
  mk('stop', {offset: i / (plasmaStops.length - 1), 'stop-color': col}, grad);
});
const barL = 1117, barR = 1865, barT = 1579, barB = 1655;
const dayX = v => barL + (v - dayDomain[0]) / (dayDomain[1] - dayDomain[0]) * (barR - barL);
const bar = mk('rect', {x: barL, y: barT, width: barR - barL, height: barB - barT, fill: 'url(#plasmaGrad)'}, legendHost);


legendTicks.forEach(function (v) {
  const t1 = mk('line', {x1: dayX(v), x2: dayX(v), y1: barT, y2: barT + 15, stroke: '#000', 'stroke-width': 1.5}, legendHost);
  
  
  const t2 = mk('line', {x1: dayX(v), x2: dayX(v), y1: barB - 15, y2: barB, stroke: '#000', 'stroke-width': 1.5}, legendHost);
  
  
  const tl = mk('text', {x: dayX(v), y: 1718, 'text-anchor': 'middle', 'font-size': 44.5, fill: '#000'}, legendHost);
  
  
  tl.textContent = String(v);
});
const edgeTop = mk('line', {x1: barL - 1, x2: barR + 1, y1: barT, y2: barT, stroke: '#000', 'stroke-width': 4.5}, legendHost);


const edgeBottom = mk('line', {x1: barL - 1, x2: barR + 1, y1: barB, y2: barB, stroke: '#000', 'stroke-width': 4.5}, legendHost);


const edgeLeft = mk('line', {x1: barL, x2: barL, y1: barT, y2: barB, stroke: '#000', 'stroke-width': 2.5}, legendHost);


const edgeRight = mk('line', {x1: barR, x2: barR, y1: barT, y2: barB, stroke: '#000', 'stroke-width': 2.5}, legendHost);


</script>
</body>
</html>
